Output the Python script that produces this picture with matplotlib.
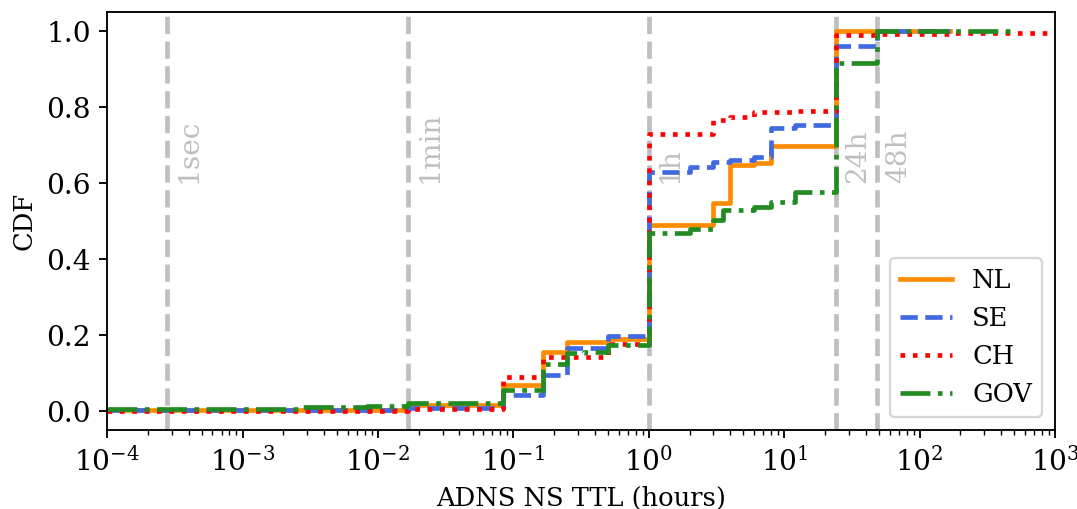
import numpy as np
import matplotlib
matplotlib.use("Agg")
import matplotlib.pyplot as plt

plt.rcParams['font.family'] = 'DejaVu Serif'

# TTL breakpoints (hours) and CDF value from that point on
nl_ttl = [1e-4, 1/60, 5/60, 10/60, 15/60, 0.5, 1, 3, 4, 6, 8, 24, 168]
nl_cdf = [0.002, 0.017, 0.068, 0.155, 0.182, 0.19, 0.49, 0.547, 0.647, 0.652, 0.697, 1.0, 1.0]

se_ttl = [1e-4, 1/60, 5/60, 10/60, 15/60, 0.5, 1, 2, 3, 4, 6, 8, 12, 24, 48, 168]
se_cdf = [0.002, 0.008, 0.042, 0.095, 0.165, 0.197, 0.63, 0.643, 0.655, 0.66, 0.669, 0.745, 0.753, 0.961, 1.0, 1.0]

ch_ttl = [1e-4, 1/60, 5/60, 10/60, 0.5, 1, 3, 4, 6, 12, 24, 48, 168, 1e4]
ch_cdf = [0.001, 0.005, 0.09, 0.143, 0.176, 0.73, 0.766, 0.774, 0.787, 0.79, 0.988, 0.992, 0.995, 0.995]

gov_ttl = [1e-4, 10/3600, 30/3600, 1/60, 5/60, 10/60, 15/60, 20/60, 0.5, 1, 2, 3, 3.5, 6, 8, 12, 24, 48, 480]
gov_cdf = [0.005, 0.011, 0.014, 0.02, 0.055, 0.124, 0.152, 0.156, 0.174, 0.468, 0.48, 0.503, 0.529, 0.537, 0.551, 0.577, 0.915, 1.0, 1.0]

marks = [1/3600, 1/60, 1, 24, 48]
mark_labels = ['1sec', '1min', '1h', '24h', '48h']

fig, ax = plt.subplots(figsize=(6.4, 3.025), dpi=168.3)
fig.subplots_adjust(left=0.0994, right=0.9796, bottom=0.1552, top=0.9764)

for m, lab in zip(marks, mark_labels):
    ax.axvline(m, color='gray', alpha=0.5, ls='--', lw=2, zorder=1)
    ax.text(m*1.15, 0.6, lab, rotation=90, ha='left', va='bottom',
            color='gray', alpha=0.5, fontsize=12)

ax.step(nl_ttl, nl_cdf, where='post', color='darkorange', ls='-', lw=2, label='NL')
ax.step(se_ttl, se_cdf, where='post', color='royalblue', ls='--', lw=2, label='SE')
ax.step(ch_ttl, ch_cdf, where='post', color='red', ls=':', lw=2, label='CH')
ax.step(gov_ttl, gov_cdf, where='post', color='forestgreen', ls='-.', lw=2, label='GOV')

ax.set_xscale('log')
ax.set_xlim(1e-4, 1e3)
ax.set_ylim(-0.05, 1.05)
ax.set_xlabel('ADNS NS TTL (hours)', fontsize=11)
ax.set_ylabel('CDF', fontsize=11)
ax.tick_params(labelsize=12)
ax.legend(loc='lower right', fontsize=11)

plt.savefig('out.png')
